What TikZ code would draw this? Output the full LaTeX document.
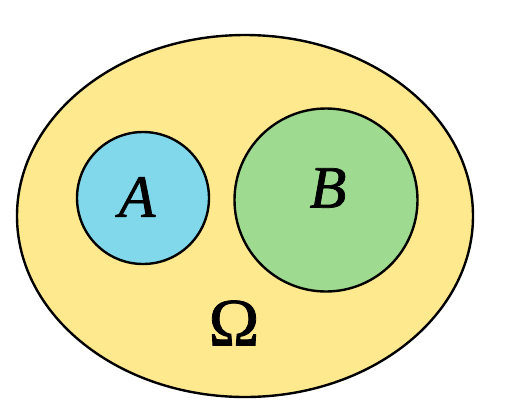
\documentclass[tikz,border=0pt]{standalone}
\usepackage{fontspec}
\setmainfont{Liberation Serif}
\newfontfamily\lblfont[FakeBold=1.2]{Liberation Serif}
\definecolor{omegafill}{HTML}{FFE98F}
\definecolor{afill}{HTML}{80D8EA}
\definecolor{bfill}{HTML}{9EDB91}
\begin{document}
\begin{tikzpicture}[x=1pt,y=-1pt,
  setline/.style={draw=black,line width=2.4pt},
  lbl/.style={inner sep=0pt,font=\lblfont\fontsize{60}{60}\selectfont\itshape}]
\useasboundingbox (0,0) rectangle (506,408);
\fill[white] (0,0) rectangle (506,408);
\path[setline,fill=omegafill] (245,216) ellipse [x radius=228,y radius=181];
\node[setline,fill=afill,circle,minimum size=132pt,inner sep=0pt] (A) at (143,198) {};
\node[setline,fill=bfill,circle,minimum size=183pt,inner sep=0pt] (B) at (326,200) {};
\node[lbl] (la) at (137,197) {A};
\node[lbl] (lb) at (328,188) {B};
\node[inner sep=0pt,font=\lblfont\fontsize{68}{68}\selectfont] (om) at (234,323) {Ω};
\end{tikzpicture}
\end{document}
